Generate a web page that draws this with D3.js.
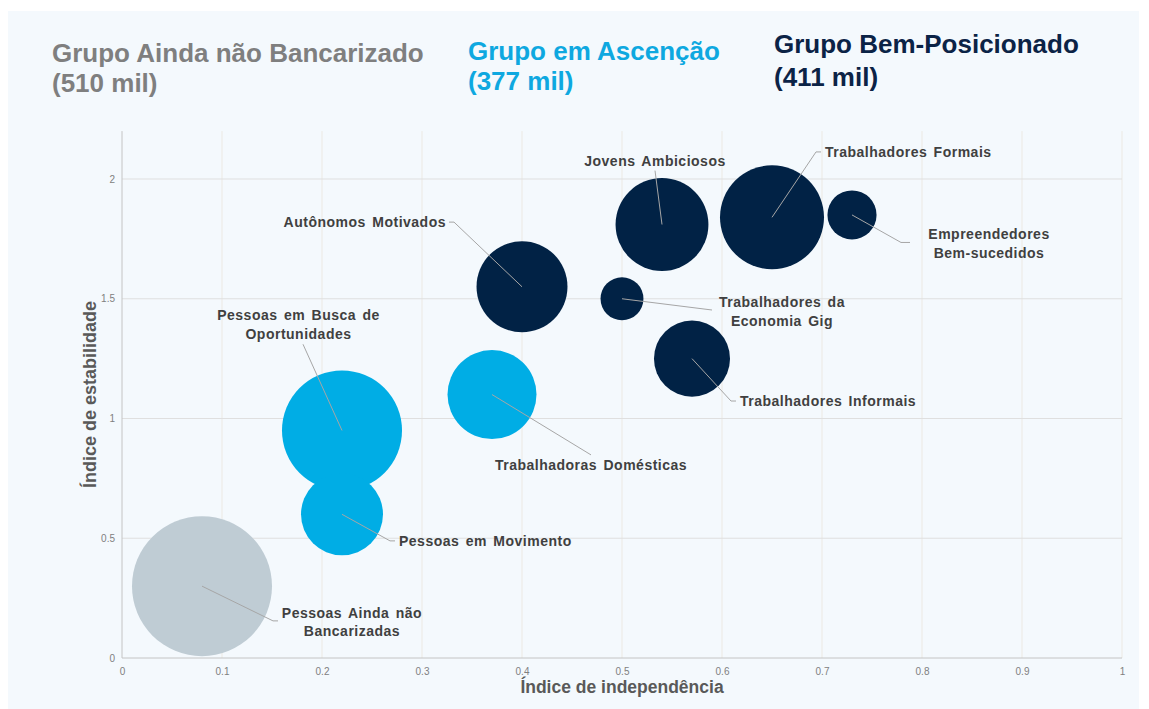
<!DOCTYPE html>
<html>
<head>
<meta charset="utf-8">
<script src="https://cdn.jsdelivr.net/npm/d3@7"></script>
<style>
  body { margin: 0; background: #fff; }
  svg { display: block; font-family: "Liberation Sans", Arial, sans-serif; }
</style>
</head>
<body>
<svg width="1149" height="709"></svg>
<script>
// grupos (cabeçalho)
const grupos = ["Grupo Ainda não Bancarizado", "Grupo em Ascenção", "Grupo Bem-Posicionado"];
const totais = ["(510 mil)", "(377 mil)", "(411 mil)"];
const coresTexto = ["#7f7f7f", "#0ea8e0", "#0b2346"];
const coresBolha = ["#bfccd4", "#00ade5", "#012245"];

// segmentos
const segmentos = [
  "Pessoas Ainda não Bancarizadas", "Pessoas em Busca de Oportunidades", "Pessoas em Movimento",
  "Trabalhadoras Domésticas", "Autônomos Motivados", "Trabalhadores da Economia Gig",
  "Trabalhadores Informais", "Jovens Ambiciosos", "Trabalhadores Formais", "Empreendedores Bem-sucedidos"
];
const independencia = [0.08, 0.22, 0.22, 0.37, 0.40, 0.50, 0.57, 0.54, 0.65, 0.73];
const estabilidade = [0.30, 0.95, 0.60, 1.10, 1.55, 1.50, 1.25, 1.81, 1.84, 1.85];
const tamanho = [100, 73.5, 34.3, 40.4, 42.2, 9.4, 29.5, 44, 55.2, 12.3];
const grupoDe = [0, 1, 1, 1, 2, 2, 2, 2, 2, 2];

const xTicks = d3.ticks(0, 1, 10);
const yTicks = [0, 0.5, 1, 1.5, 2];

// rótulos: linhas de texto, posição (unidades do gráfico), âncora, fim da linha guia
const rotulos = [
  { linhas: ["Pessoas Ainda não", "Bancarizadas"], lx: 0.23, ly: 0.188, anchor: "middle", ex: 0.156, ey: 0.155, cotovelo: -5 },
  { linhas: ["Pessoas em Busca de", "Oportunidades"], lx: 0.1765, ly: 1.432, anchor: "middle", ex: 0.181, ey: 1.31, cotovelo: 0 },
  { linhas: ["Pessoas em Movimento"], lx: 0.277, ly: 0.489, anchor: "start", ex: 0.273, ey: 0.489, cotovelo: -5 },
  { linhas: ["Trabalhadoras Domésticas"], lx: 0.469, ly: 0.806, anchor: "middle", ex: 0.469, ey: 0.848, cotovelo: 0 },
  { linhas: ["Autônomos Motivados"], lx: 0.324, ly: 1.82, anchor: "end", ex: 0.327, ey: 1.82, cotovelo: 5 },
  { linhas: ["Trabalhadores da", "Economia Gig"], lx: 0.66, ly: 1.486, anchor: "middle", ex: 0.59, ey: 1.453, cotovelo: 0 },
  { linhas: ["Trabalhadores Informais"], lx: 0.618, ly: 1.073, anchor: "start", ex: 0.614, ey: 1.073, cotovelo: -5 },
  { linhas: ["Jovens Ambiciosos"], lx: 0.533, ly: 2.075, anchor: "middle", ex: 0.533, ey: 2.035, cotovelo: 0 },
  { linhas: ["Trabalhadores Formais"], lx: 0.703, ly: 2.113, anchor: "start", ex: 0.699, ey: 2.113, cotovelo: -5 },
  { linhas: ["Empreendedores", "Bem-sucedidos"], lx: 0.867, ly: 1.77, anchor: "middle", ex: 0.788, ey: 1.735, cotovelo: -9 }
];

const svg = d3.select("svg");
const W = 1149, H = 709;

// painel de fundo
svg.append("rect").attr("x", 8).attr("y", 11).attr("width", 1131).attr("height", H - 11).attr("fill", "#f4f9fd");

// cabeçalho dos grupos
const headX = [52, 468, 774];
const headY = [[62, 92], [60, 90], [53, 86]];
grupos.forEach(function (g, i) {
  const t = svg.append("text")
    .attr("fill", coresTexto[i])
    .style("font-size", "26px")
    .style("font-weight", "bold");
  t.append("tspan").attr("x", headX[i]).attr("y", headY[i][0]).text(g);
  t.append("tspan").attr("x", headX[i]).attr("y", headY[i][1]).text(totais[i]);
});

const x = d3.scaleLinear().domain([0, 1]).range([122, 1122]);
const y = d3.scaleLinear().domain([0, 2.2]).range([658, 131.1]);
const r = d3.scaleSqrt().domain([0, 100]).range([0, 70]);

// grade
svg.append("g").selectAll("line").data(xTicks.slice(1)).enter().append("line")
  .attr("x1", d => x(d)).attr("x2", d => x(d))
  .attr("y1", y(2.2)).attr("y2", y(0))
  .attr("stroke", "#ece9e3").attr("stroke-width", 1);
svg.append("g").selectAll("line").data(yTicks.slice(1)).enter().append("line")
  .attr("x1", x(0)).attr("x2", x(1))
  .attr("y1", d => y(d)).attr("y2", d => y(d))
  .attr("stroke", "#dfdfdf").attr("stroke-width", 1);

// eixos
const xAxis = svg.append("g").attr("transform", "translate(0," + y(0) + ")")
  .call(d3.axisBottom(x).tickValues(xTicks).tickSize(0).tickPadding(10).tickFormat(d3.format("~g")));
const yAxis = svg.append("g").attr("transform", "translate(" + x(0) + ",0)")
  .call(d3.axisLeft(y).tickValues(yTicks).tickSize(0).tickPadding(7).tickFormat(d3.format("~g")));
yAxis.select(".domain").attr("stroke", "#c4c4c4").attr("d", "M0," + y(2.2) + "V" + y(0));
xAxis.select(".domain").attr("stroke", "#c4c4c4").attr("d", "M" + x(0) + ",0H" + x(1));
svg.selectAll(".tick text").attr("fill", "#808080").style("font-size", "10px")
  .style("font-family", "\"Liberation Sans\", Arial, sans-serif");

// títulos dos eixos
svg.append("text")
  .attr("x", (x(0) + x(1)) / 2).attr("y", 693)
  .attr("text-anchor", "middle").attr("fill", "#595959")
  .style("font-size", "17.5px").style("font-weight", "bold")
  .text("Índice de independência");
svg.append("text")
  .attr("transform", "translate(96," + (y(0) + y(2.2)) / 2 + ") rotate(-90)")
  .attr("text-anchor", "middle").attr("fill", "#595959")
  .style("font-size", "18px").style("font-weight", "bold")
  .text("Índice de estabilidade");

// bolhas
const dados = segmentos.map(function (s, i) {
  return { nome: s, x: independencia[i], y: estabilidade[i], t: tamanho[i], g: grupoDe[i], rot: rotulos[i] };
});

svg.append("g").selectAll("circle").data(dados).enter().append("circle")
  .attr("cx", d => x(d.x)).attr("cy", d => y(d.y)).attr("r", d => r(d.t))
  .attr("fill", d => coresBolha[d.g]);

// linhas guia
svg.append("g").selectAll("polyline").data(dados).enter().append("polyline")
  .attr("points", function (d) {
    const ex = x(d.rot.ex), ey = y(d.rot.ey);
    const pts = [[x(d.x), y(d.y)]];
    if (d.rot.cotovelo) pts.push([ex + d.rot.cotovelo, ey]);
    pts.push([ex, ey]);
    return pts.map(p => p.join(",")).join(" ");
  })
  .attr("fill", "none").attr("stroke", "#a6a6a6").attr("stroke-width", 1);

// rótulos
const rot = svg.append("g").selectAll("text").data(dados).enter().append("text")
  .attr("text-anchor", d => d.rot.anchor)
  .attr("fill", "#404040")
  .style("font-size", "14px").style("font-weight", "bold")
  .style("letter-spacing", "0.5px").style("word-spacing", "2px");
rot.each(function (d) {
  const t = d3.select(this);
  d.rot.linhas.forEach(function (l, k) {
    t.append("tspan").attr("x", x(d.rot.lx)).attr("y", y(d.rot.ly) + 5 + k * 18.5).text(l);
  });
});
</script>
</body>
</html>
